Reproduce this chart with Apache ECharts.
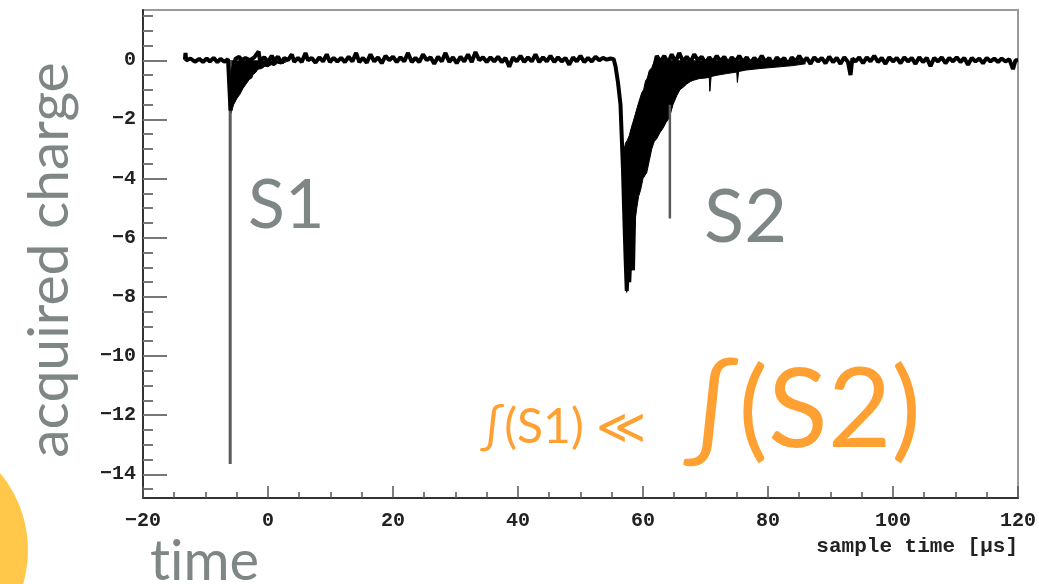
<!DOCTYPE html>
<html>
<head>
<meta charset="utf-8">
<script src="https://cdn.jsdelivr.net/npm/echarts@6/dist/echarts.min.js"></script>
<style>
  html, body { margin: 0; padding: 0; background: #fff; }
  #chart { width: 1039px; height: 584px; }
</style>
</head>
<body>
<div id="chart"></div>
<script>
// 坐标轴刻度
const yTicks = [-14, -12, -10, -8, -6, -4, -2, 0];
const yMinorTicks = [-14.5, -14, -13.5, -13, -12.5, -12, -11.5, -11, -10.5, -10, -9.5, -9, -8.5, -8,
  -7.5, -7, -6.5, -6, -5.5, -5, -4.5, -4, -3.5, -3, -2.5, -2, -1.5, -1, -0.5, 0, 0.5, 1, 1.5];

// 主波形 (time, charge)
const trace = [[-13.3,0.02],[-13.2,0.25],[-13.1,0.0],[-12.4,0.06],[-11.7,-0.05],[-11.0,0.05],[-10.4,-0.06],
  [-9.8,0.06],[-9.3,-0.04],[-8.7,0.08],[-8.1,-0.06],[-7.6,0.05],[-7.0,-0.05],[-6.4,0.04],[-6.1,0.0],
  [-6.0,-1.7],[-5.6,-0.3],[-5.2,0.05],[-4.6,0.12],[-4.3,0.0],[-3.6,0.08],[-2.9,0.0],[-2.2,0.1],[-1.5,0.3],
  [-1.3,0.0],[-0.6,0.1],[0.0,-0.05],[0.6,0.15],[1.0,0.0],[1.6,0.12],[2.2,-0.1],[2.6,0.08],[3.2,0.0],[3.8,0.2],
  [4.2,-0.05],[4.8,0.08],[5.4,-0.06],[6.0,0.25],[6.4,0.0],[7.0,0.08],[7.6,-0.08],[8.2,0.1],[8.8,-0.04],[9.4,0.2],
  [9.9,-0.06],[10.5,0.08],[11.1,-0.04],[11.7,0.08],[12.3,-0.06],[12.9,0.12],[13.5,-0.04],[14.1,0.25],[14.6,-0.06],
  [15.2,0.08],[15.8,-0.08],[16.4,0.2],[17.0,-0.04],[17.6,0.1],[18.2,-0.1],[18.8,0.15],[19.4,0.0],[20.0,0.12],
  [20.6,-0.06],[21.2,0.1],[21.8,-0.04],[22.4,0.25],[23.0,-0.06],[23.6,0.08],[24.2,-0.06],[24.8,0.2],[25.4,0.0],
  [26.0,0.1],[26.6,-0.12],[27.2,0.12],[27.8,-0.04],[28.4,0.25],[29.0,-0.06],[29.6,0.1],[30.2,-0.1],[30.8,0.12],
  [31.4,-0.04],[32.0,0.2],[32.6,-0.06],[33.2,0.28],[33.8,0.0],[34.4,0.1],[35.0,-0.06],[35.6,0.1],[36.2,-0.04],
  [36.8,0.12],[37.4,-0.06],[38.0,0.08],[38.6,-0.22],[39.2,0.1],[39.8,-0.04],[40.4,0.15],[41.0,-0.06],[41.6,0.1],
  [42.2,-0.04],[42.8,0.2],[43.4,-0.06],[44.0,0.1],[44.6,-0.04],[45.2,0.15],[45.8,-0.06],[46.4,0.1],[47.0,-0.04],
  [47.6,0.08],[48.2,-0.15],[48.8,0.1],[49.4,-0.04],[50.0,0.15],[50.6,-0.06],[51.2,0.08],[51.8,-0.04],[52.4,0.12],
  [53.0,0.0],[53.6,0.08],[54.2,0.02],[54.8,0.06],[55.3,0.04],
  [55.6,-0.2],[56.0,-0.75],[56.4,-1.5],[56.6,-2.6],[56.8,-3.7],[57.0,-5.2],[57.2,-6.6],[57.4,-7.8],[57.6,-6.9],
  [57.8,-7.5],[58.1,-6.0],[58.4,-7.1],[58.6,-5.0],[59.2,-4.0],[60.0,-2.6],[60.8,-1.2],[61.6,-0.4],[62.2,0.15],
  [62.8,-0.06],[63.4,0.15],[64.0,-0.1],[64.6,0.2],[65.2,-0.06],[65.8,0.25],[66.4,-0.04],[67.0,0.12],[67.6,-0.06],
  [68.2,0.2],[68.8,0.0],[69.4,0.12],[70.0,-0.1],[70.6,0.1],[71.2,-0.06],[71.8,0.15],[72.4,-0.04],[73.0,0.12],
  [73.6,-0.1],[74.2,0.1],[74.8,-0.04],[75.4,0.15],[76.0,-0.06],[76.6,0.1],[77.2,-0.1],[77.8,0.08],[78.4,-0.06],
  [79.0,0.15],[79.6,-0.06],[80.2,0.08],[80.8,-0.15],[81.4,0.1],[82.0,-0.04],[82.6,0.08],[83.2,-0.15],[83.8,0.1],
  [84.4,-0.04],[85.0,0.15],[85.6,-0.06],[86.2,0.08],[86.8,-0.12],[87.4,0.1],[88.0,-0.04],[88.6,0.08],[89.2,-0.1],
  [89.8,0.12],[90.4,-0.06],[91.0,0.08],[91.6,-0.12],[92.2,0.1],[92.8,-0.06],[93.2,-0.5],[93.5,0.06],[94.0,-0.04],
  [94.6,0.1],[95.2,-0.1],[95.8,0.1],[96.4,-0.04],[97.0,0.15],[97.6,-0.06],[98.2,0.08],[98.8,-0.12],[99.4,0.1],
  [100.0,-0.04],[100.6,0.08],[101.2,-0.1],[101.8,0.1],[102.4,-0.04],[103.0,0.08],[103.6,-0.12],[104.2,0.1],
  [104.8,-0.06],[105.4,0.08],[106.0,-0.2],[106.6,0.08],[107.2,-0.04],[107.8,0.1],[108.4,-0.1],[109.0,0.08],
  [109.6,-0.04],[110.2,0.1],[110.8,-0.06],[111.4,0.08],[112.0,-0.15],[112.6,0.08],[113.2,-0.04],[113.8,0.06],
  [114.4,-0.1],[115.0,0.08],[115.6,-0.04],[116.2,0.06],[116.8,-0.06],[117.4,0.06],[118.0,-0.04],[118.6,0.04],
  [119.2,-0.3],[119.6,0.0],[120.0,0.0]];

// S1 尖峰及拖尾
const s1Spike = [[-6.05,0.0],[-6.05,-13.65]];
const s1Tail = [[-6.0,0],[-5.95,-1.8],[-5.7,-1.75],[-5.5,-1.5],[-5.3,-1.55],[-5.0,-1.3],[-4.8,-1.35],[-4.5,-1.15],
  [-4.2,-1.1],[-4.0,-0.95],[-3.7,-0.95],[-3.5,-0.8],[-3.2,-0.8],[-3.0,-0.65],[-2.6,-0.6],[-2.4,-0.48],[-2.0,-0.42],
  [-1.6,-0.3],[-1.0,-0.28],[-0.5,-0.2],[0.0,-0.22],[0.5,-0.15],[1.0,-0.18],[1.5,-0.1],[2.0,-0.12],[3.0,-0.05]];

// S2 叠加波形的上下包络
const s2Lower = [[56.8,-3.8],[57.0,-5.8],[57.2,-7.2],[57.4,-7.85],[57.6,-7.1],[57.8,-7.4],[58.0,-6.9],[58.2,-7.1],
  [58.4,-6.3],[58.6,-5.9],[58.8,-5.3],[59.0,-5.0],[59.3,-4.6],[59.6,-4.4],[60.0,-4.0],[60.3,-3.9],[60.6,-3.8],
  [61.0,-3.4],[61.4,-3.0],[61.8,-2.75],[62.2,-2.65],[62.7,-2.45],[63.2,-2.3],[63.7,-2.1],[64.2,-1.95],[64.8,-1.5],
  [65.4,-1.2],[65.9,-1.0],[66.5,-0.9],[67.0,-0.8],[67.6,-0.72],[68.0,-0.68],[69.0,-0.62],[70.0,-0.6],[70.6,-0.58],
  [70.7,-1.05],[70.9,-0.55],[72.0,-0.5],[73.4,-0.45],[75.0,-0.4],[75.1,-0.75],[75.3,-0.38],[76.5,-0.33],
  [78.7,-0.28],[81.4,-0.23],[84.0,-0.18],[86.0,-0.12]];
const s2Upper = [[56.8,-3.4],[57.0,-3.0],[57.2,-2.8],[57.5,-2.7],[57.8,-2.55],[58.1,-2.3],[58.4,-2.25],[58.6,-1.95],
  [58.9,-1.9],[59.2,-1.5],[59.5,-1.45],[59.8,-1.1],[60.1,-1.0],[60.4,-0.7],[60.7,-0.6],[61.0,-0.35],[61.4,-0.25],
  [61.8,-0.05],[62.2,0.0]];
const s2Spike = [[64.3,-1.5],[64.3,-5.35]];

const minus = v => String(v).replace('-', '\u2212');

const chart = echarts.init(document.getElementById('chart'));

const lineSeries = (data, color, width, extra) => Object.assign({
  type: 'line',
  data,
  showSymbol: false,
  symbol: 'none',
  animation: false,
  lineStyle: { color, width }
}, extra || {});

const labelFont = { fontFamily: 'Liberation Mono', fontWeight: 'bold', fontSize: 20, color: '#222' };

chart.setOption({
  animation: false,
  grid: {
    left: 143, right: 21, top: 10, bottom: 86,
    show: true, borderColor: '#9a9a9a', borderWidth: 2
  },
  xAxis: {
    type: 'value',
    min: -20, max: 120, interval: 20,
    axisLine: { onZero: false, lineStyle: { color: '#333', width: 2 } },
    axisTick: { inside: true, length: 12, lineStyle: { color: '#555', width: 1.5 } },
    minorTick: { show: true, splitNumber: 4, length: 6, lineStyle: { color: '#555', width: 1.5 } },
    splitLine: { show: false },
    axisLabel: Object.assign({ formatter: minus, margin: 13 }, labelFont)
  },
  yAxis: [{
    type: 'value',
    min: -14.8, max: 1.7,
    axisLine: { onZero: false, lineStyle: { color: '#333', width: 2 } },
    axisTick: { inside: true, length: 24, customValues: yTicks, lineStyle: { color: '#777', width: 2 } },
    splitLine: { show: false },
    axisLabel: Object.assign({ customValues: yTicks, formatter: minus, margin: 7 }, labelFont)
  }, {
    type: 'value',
    position: 'left',
    min: -14.8, max: 1.7,
    axisLine: { show: false, onZero: false },
    axisTick: { inside: true, length: 10, customValues: yMinorTicks, lineStyle: { color: '#777', width: 2 } },
    axisLabel: { show: false },
    splitLine: { show: false }
  }],
  series: [
    lineSeries(s1Tail, '#000', 1, { areaStyle: { color: '#000', opacity: 1 } }),
    lineSeries(s2Lower, '#000', 1, { areaStyle: { color: '#000', opacity: 1 } }),
    lineSeries(s2Upper, '#000', 1, { areaStyle: { color: '#fff', opacity: 1, origin: 0.08 } }),
    lineSeries(s1Spike, '#5a5a5a', 3),
    lineSeries(s2Spike, '#5a5a5a', 2.5),
    lineSeries(trace, '#000', 4)
  ],
  graphic: [
    { type: 'circle', shape: { cx: -92, cy: 550, r: 120 }, style: { fill: '#ffc84a' }, z: 1 },
    { type: 'text', x: 50, y: 260, rotation: Math.PI / 2, z: 10,
      style: { text: 'acquired charge', fill: '#7f8686', font: '57px Lato', align: 'center', verticalAlign: 'middle' } },
    { type: 'text', x: 150, y: 562, z: 10,
      style: { text: 't\u200Cime', fill: '#7f8686', font: '56px Lato', align: 'left', verticalAlign: 'middle' } },
    { type: 'text', x: 248, y: 206, z: 10,
      style: { text: 'S1', fill: '#7f8686', font: '68px Lato', align: 'left', verticalAlign: 'middle' } },
    { type: 'text', x: 704, y: 218, z: 10,
      style: { text: 'S2', fill: '#7f8686', font: '74px Lato', align: 'left', verticalAlign: 'middle' } },
    { type: 'text', x: 480, y: 428, z: 10,
      style: { text: '\u222B(S1) \u226A', fill: '#ffa033', font: '48px Lato', align: 'left', verticalAlign: 'middle' } },
    { type: 'text', x: 683, y: 412, z: 10,
      style: { text: '\u222B(S2)', fill: '#ffa033', font: '110px Lato', align: 'left', verticalAlign: 'middle' } },
    { type: 'text', x: 1018, y: 547, z: 10,
      style: { text: 'sample time [\u00B5s]', fill: '#222', font: 'bold 21px "Liberation Mono"', align: 'right', verticalAlign: 'middle' } }
  ]
});
</script>
</body>
</html>
